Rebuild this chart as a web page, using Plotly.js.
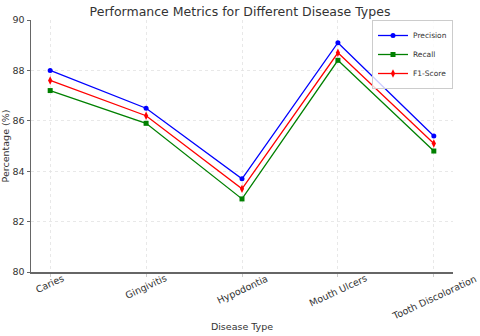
<!DOCTYPE html>
<html>
<head>
<meta charset="utf-8">
<script src="https://cdn.plot.ly/plotly-3.0.1.min.js"></script>
<style>
  body { margin: 0; background: #fff; }
  #plot { width: 480px; height: 336px; }
</style>
</head>
<body>
<div id="plot"></div>
<script>
// disease categories and the three metric series (%)
var diseases = ["Caries", "Gingivitis", "Hypodontia", "Mouth Ulcers", "Tooth Discoloration"];
var precision = [88.0, 86.5, 83.7, 89.1, 85.4];
var recall = [87.2, 85.9, 82.9, 88.4, 84.8];
var f1Score = [87.6, 86.2, 83.3, 88.7, 85.1];
var yTicks = [80, 82, 84, 86, 88, 90];

var xIdx = diseases.map((d, i) => i);

function series(name, vals, color, symbol, size) {
  return {
    x: xIdx,
    y: vals,
    name: name,
    type: "scatter",
    mode: "lines+markers",
    line: { color: color, width: 1.3 },
    marker: { color: color, symbol: symbol, size: size }
  };
}

var data = [
  series("Precision", precision, "#0000ff", "circle", 5),
  series("Recall", recall, "#008000", "square", 5),
  series("F1-Score", f1Score, "#ff0000", "diamond-tall", 6)
];

// x tick labels drawn as rotated annotations so they centre on the tick like the original
var tickLabels = diseases.map((d, i) => ({
  x: i, xref: "x",
  y: 0, yref: "paper",
  yshift: 2,
  text: d,
  textangle: -25,
  xanchor: "center", yanchor: "top",
  showarrow: false,
  font: { size: 9.5, color: "#333" }
}));

var layout = {
  width: 480,
  height: 336,
  margin: { l: 31, r: 27, t: 20, b: 64 },
  paper_bgcolor: "#fff",
  plot_bgcolor: "#fff",
  font: { family: "DejaVu Sans", size: 9.5, color: "#333" },
  title: {
    text: "Performance Metrics for Different Disease Types",
    font: { size: 12.5, color: "#333" },
    x: 0.5, xanchor: "center", y: 0.965, yanchor: "middle"
  },
  xaxis: {
    range: [-0.2, 4.2],
    tickmode: "array",
    tickvals: xIdx,
    showticklabels: false,
    ticks: "outside", ticklen: 3, tickcolor: "#ccc",
    showgrid: true, gridcolor: "#e2e2e2", griddash: "dot", gridwidth: 0.8,
    showline: true, linecolor: "#666", linewidth: 1.5,
    zeroline: false,
    title: { text: "Disease Type", font: { size: 9.5 }, standoff: 48 }
  },
  yaxis: {
    range: [80, 90],
    tickmode: "array",
    tickvals: yTicks,
    ticks: "outside", ticklen: 3, tickcolor: "#666",
    showgrid: true, gridcolor: "#e2e2e2", griddash: "dot", gridwidth: 0.8,
    showline: true, linecolor: "#666", linewidth: 1.5,
    zeroline: false,
    title: { text: "Percentage (%)", font: { size: 9.5 }, standoff: 6 }
  },
  annotations: tickLabels,
  legend: {
    x: 1, xanchor: "right", y: 1, yanchor: "top",
    bgcolor: "rgba(255,255,255,0.8)", bordercolor: "#ccc", borderwidth: 1,
    font: { size: 7.5 },
    itemwidth: 30, tracegroupgap: 0
  },
  showlegend: true
};

Plotly.newPlot("plot", data, layout, { displayModeBar: false, staticPlot: true });
</script>
</body>
</html>
